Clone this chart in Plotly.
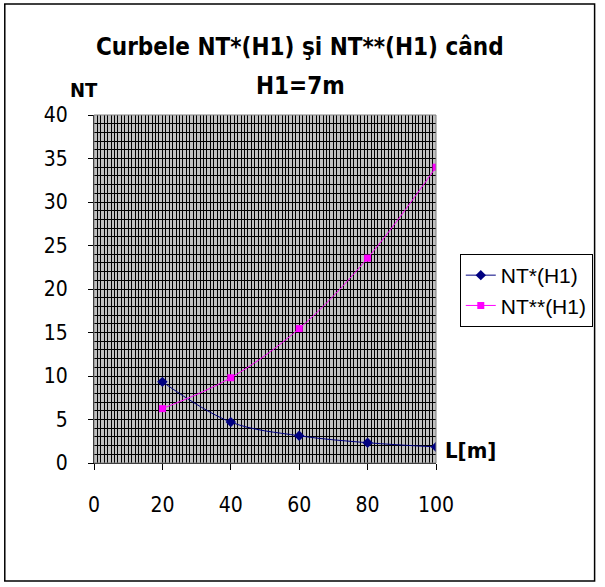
import plotly.graph_objects as go

L = [20, 40, 60, 80, 100]
nt1 = [9.33, 4.70, 3.13, 2.33, 1.85]
nt2 = [6.25, 9.80, 15.45, 23.55, 34.0]
names = ["NT*(H1)", "NT**(H1)"]
x_ticks = [0, 20, 40, 60, 80, 100]
y_ticks = [0, 5, 10, 15, 20, 25, 30, 35, 40]

NARROW = "Liberation Sans Narrow, Arial Narrow, DejaVu Sans Condensed, sans-serif"
ARIAL = "Liberation Sans, Arial, sans-serif"

fig = go.Figure()
fig.add_trace(go.Scatter(x=L, y=nt1, name=names[0], mode="lines+markers",
                         line=dict(color="#000080", width=1, shape="spline"),
                         marker=dict(symbol="diamond", size=8, color="#000080")))
fig.add_trace(go.Scatter(x=L, y=nt2, name=names[1], mode="lines+markers",
                         line=dict(color="#FF00FF", width=1, shape="spline"),
                         marker=dict(symbol="square", size=7, color="#FF00FF")))

W, H = 605, 587
ml, mr, mt, mb = 94, 166, 115, 124
pw, ph = W - ml - mr, H - mt - mb

def px(x):
    return (x - ml) / pw

def py(y):
    return (H - mb - y) / ph

fig.update_layout(
    width=W, height=H,
    margin=dict(l=ml, r=mr, t=mt, b=mb),
    paper_bgcolor="white", plot_bgcolor="#C0C0C0",
    showlegend=True,
    legend=dict(x=px(463), y=py(254), xanchor="left", yanchor="top",
                bordercolor="black", borderwidth=1, bgcolor="white",
                font=dict(family=ARIAL, size=21, color="black"),
                tracegroupgap=0, itemwidth=30),
    xaxis=dict(range=[0, 100], tickvals=x_ticks, showgrid=True, gridcolor="black", gridwidth=1,
               minor=dict(dtick=1, showgrid=True, gridcolor="black", gridwidth=1),
               ticks="outside", ticklen=6, tickcolor="black", showline=True, linecolor="black",
               ticklabelstandoff=17, zeroline=False,
               tickfont=dict(family=NARROW, size=21, color="black")),
    yaxis=dict(range=[0, 40], tickvals=y_ticks, showgrid=True, gridcolor="black", gridwidth=1,
               minor=dict(dtick=1, showgrid=True, gridcolor="black", gridwidth=1),
               ticks="outside", ticklen=5, tickcolor="black", showline=True, linecolor="black",
               ticklabelstandoff=16, zeroline=False,
               tickfont=dict(family=NARROW, size=21, color="black")),
    annotations=[
        dict(text="Curbele NT*(H1) şi NT**(H1) când", xref="paper", yref="paper",
             x=px(302), y=py(47), showarrow=False, xanchor="center", yanchor="middle",
             font=dict(family=NARROW, size=24, color="black", weight="bold")),
        dict(text="H1=7m", xref="paper", yref="paper",
             x=px(302), y=py(86), showarrow=False, xanchor="center", yanchor="middle",
             font=dict(family=NARROW, size=24, color="black", weight="bold")),
        dict(text="NT", xref="paper", yref="paper",
             x=px(84), y=py(90), showarrow=False, xanchor="center", yanchor="middle",
             font=dict(family=NARROW, size=20, color="black", weight="bold")),
        dict(text="L[m]", xref="paper", yref="paper",
             x=px(446), y=py(450), showarrow=False, xanchor="left", yanchor="middle",
             font=dict(family=NARROW, size=22, color="black", weight="bold")),
    ],
    shapes=[
        dict(type="rect", xref="paper", yref="paper", x0=px(4), x1=px(599), y0=py(581), y1=py(4),
             line=dict(color="black", width=1.5), fillcolor="rgba(0,0,0,0)", layer="below"),
        dict(type="rect", xref="paper", yref="paper", x0=0, x1=1, y0=0, y1=1,
             line=dict(color="#808080", width=1), fillcolor="rgba(0,0,0,0)", layer="above"),
    ],
)
fig.write_html("out.html", config={"displayModeBar": False},
               post_script="document.body.style.margin='0';")
